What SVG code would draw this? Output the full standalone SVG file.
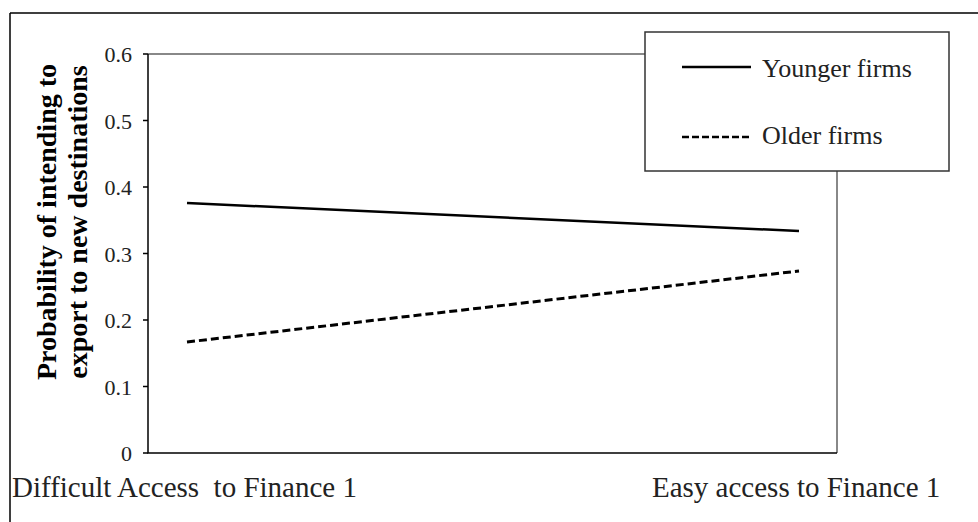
<svg xmlns="http://www.w3.org/2000/svg" width="978" height="522" viewBox="0 0 978 522">
<style>
  .t { font-family: "Liberation Serif", "Times New Roman", serif; fill: #000; }
  .tick { font-size: 22px; text-anchor: end; fill: #222; }
  .cat { font-size: 29px; fill: #222; }
  .leg { font-size: 26px; fill: #222; }
  .title { font-size: 28px; font-weight: bold; text-anchor: middle; }
  .axis { stroke: #000; stroke-width: 1.5; fill: none; }
  .plotbox { stroke: #888; stroke-width: 2; fill: none; }
  .solid { stroke: #000; stroke-width: 2.5; fill: none; }
  .dashed { stroke: #000; stroke-width: 3; fill: none; stroke-dasharray: 8 4; }
</style>
<rect width="978" height="522" fill="#fff"/>
<g id="frame">
  <path d="M10,13 H978 M10,13 V522" stroke="#000" stroke-width="1.5" fill="none"/>
</g>
<g id="plot-area">
  <path class="plotbox" d="M148,54 H645 M837,171 V453"/>
  <path class="axis" d="M148,54 V453 H837"/>
  <path class="axis" d="M143,54 H148 M143,120.5 H148 M143,187 H148 M143,253.5 H148 M143,320 H148 M143,386.5 H148 M143,453 H148"/>
</g>
<g id="y-ticks" class="t">
  <text class="t tick" x="132" y="62">0.6</text>
  <text class="t tick" x="132" y="128.5">0.5</text>
  <text class="t tick" x="132" y="195">0.4</text>
  <text class="t tick" x="132" y="261.5">0.3</text>
  <text class="t tick" x="132" y="328">0.2</text>
  <text class="t tick" x="132" y="394.5">0.1</text>
  <text class="t tick" x="132" y="461">0</text>
</g>
<g id="y-title">
  <text class="t title" transform="translate(56,222) rotate(-90)">Probability of intending to</text>
  <text class="t title" transform="translate(87,222) rotate(-90)">export to new destinations</text>
</g>
<g id="x-categories">
  <text class="t cat" x="12" y="497" xml:space="preserve">Difficult Access  to Finance 1</text>
  <text class="t cat" x="652" y="497">Easy access to Finance 1</text>
</g>
<g id="connectors">
  <path id="younger-line" class="solid" d="M187,203 L799,231"/>
  <path id="older-line" class="dashed" d="M187,342 L799,271"/>
</g>
<g id="legend">
  <rect x="645" y="32" width="304" height="139" fill="#fff" stroke="#333" stroke-width="1.5"/>
  <path class="solid" d="M682,67 H751"/>
  <text class="t leg" x="762" y="77">Younger firms</text>
  <path d="M682,137 H751" stroke="#000" stroke-width="2.5" stroke-dasharray="7 3"/>
  <text class="t leg" x="762" y="144">Older firms</text>
</g>
</svg>
